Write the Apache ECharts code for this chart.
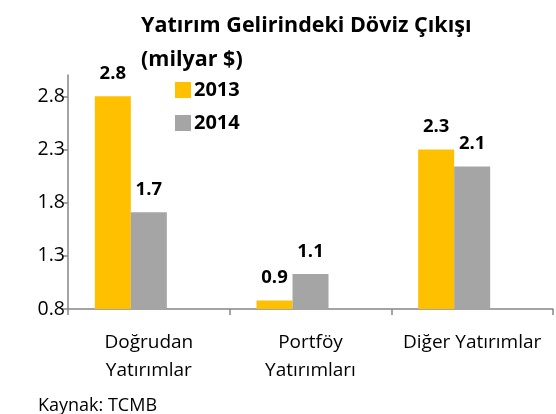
<!DOCTYPE html>
<html>
<head>
<meta charset="utf-8">
<script src="https://cdn.jsdelivr.net/npm/echarts@6/dist/echarts.min.js"></script>
<style>
  html, body { margin: 0; padding: 0; background: #fff; }
  #chart { width: 556px; height: 414px; }
</style>
</head>
<body>
<div id="chart"></div>
<script>
// kategoriler ve seriler
var categories = ["Doğrudan\nYatırımlar", "Portföy\nYatırımları", "Diğer Yatırımlar"];
var years = ["2013", "2014"];
var values2013 = [2.8, 0.88, 2.3];
var values2014 = [1.71, 1.13, 2.14];
// Excel grafiğindeki üçüncü (boş) seri, gruplar sola kaymış görünüyor
var valuesEmpty = [null, null, null];
var yTicks = [0.8, 1.3, 1.8, 2.3, 2.8];

var font = "'Open Sans', sans-serif";
var axisColor = "#868686";

var myecharts = echarts.init(document.getElementById("chart"));

function barLabel() {
  return {
    show: true,
    position: "top",
    distance: 13,
    fontFamily: font,
    fontWeight: "bold",
    fontSize: 18.5,
    color: "#000",
    formatter: function(p) {
      return p.value.toFixed(1);
    }
  };
}

var Option = {
  animation: false,
  title: [
    {
      text: "Yatırım Gelirindeki Döviz Çıkışı\n(milyar $)",
      left: 136,
      top: 4,
      textStyle: {
        fontFamily: font,
        fontWeight: "bold",
        fontSize: 21.5,
        lineHeight: 34,
        color: "#000"
      }
    },
    {
      text: "Kaynak: TCMB",
      left: 33,
      top: 392,
      textStyle: {
        fontFamily: font,
        fontWeight: "normal",
        fontSize: 18,
        color: "#000"
      }
    }
  ],
  legend: {
    orient: "vertical",
    left: 170,
    top: 75,
    itemWidth: 16,
    itemHeight: 16,
    itemGap: 13,
    icon: "rect",
    data: years,
    textStyle: {
      fontFamily: font,
      fontWeight: "bold",
      fontSize: 20,
      lineHeight: 20,
      color: "#000",
      padding: [0, 0, 0, -2]
    }
  },
  grid: {
    left: 68,
    right: 3,
    top: 75,
    bottom: 105
  },
  xAxis: {
    type: "category",
    data: categories,
    axisLine: { lineStyle: { color: axisColor, width: 1.5 } },
    axisTick: { show: true, length: 6, lineStyle: { color: axisColor, width: 1.5 } },
    axisLabel: {
      fontFamily: font,
      fontSize: 19,
      lineHeight: 28,
      color: "#000",
      margin: 20,
      interval: 0
    }
  },
  yAxis: {
    type: "value",
    min: 0.8,
    max: 3.0,
    interval: 0.5,
    splitLine: { show: false },
    axisLine: { show: true, lineStyle: { color: axisColor, width: 1.5 } },
    axisTick: { show: true, length: 6, lineStyle: { color: axisColor, width: 1.5 } },
    axisLabel: {
      fontFamily: font,
      fontSize: 19.5,
      color: "#000",
      margin: 3,
      showMaxLabel: false,
      formatter: function(v) {
        return yTicks.indexOf(Math.round(v * 10) / 10) >= 0 ? v.toFixed(1) : "";
      }
    }
  },
  series: [
    {
      name: years[0],
      type: "bar",
      data: values2013,
      barWidth: 36,
      barGap: "0%",
      itemStyle: { color: "#FFC000" },
      label: barLabel()
    },
    {
      name: years[1],
      type: "bar",
      data: values2014,
      barWidth: 36,
      barGap: "0%",
      itemStyle: { color: "#A5A5A5" },
      label: barLabel()
    },
    {
      name: "",
      type: "bar",
      data: valuesEmpty,
      barWidth: 36,
      barGap: "0%",
      itemStyle: { color: "transparent" }
    }
  ]
};
myecharts.setOption(Option);
</script>
</body>
</html>
